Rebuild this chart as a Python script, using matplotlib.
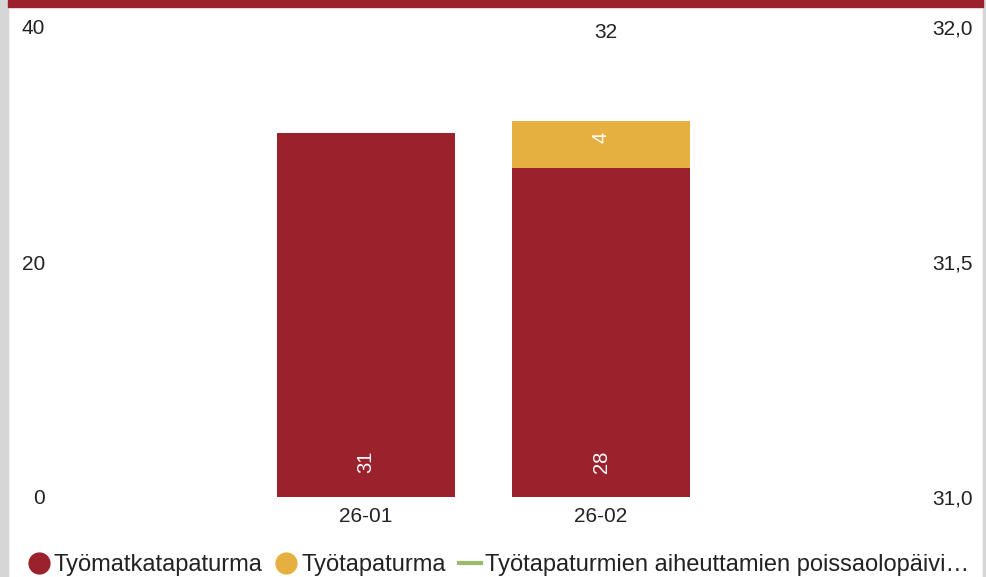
import matplotlib
matplotlib.use("Agg")
import matplotlib.pyplot as plt
import numpy as np
from matplotlib.patches import Rectangle
from matplotlib.lines import Line2D

categories = ["26-01", "26-02"]
tyomatka = [31, 28]
tyotapaturma = [0, 4]
poissaolo = [np.nan, 32]
left_ticks = [0, 20, 40]
right_ticks = [31.0, 31.5, 32.0]
legend_labels = ["Työmatkatapaturma", "Työtapaturma", "Työtapaturmien aiheuttamien poissaolopäivi…"]

RED = "#9b212d"
YEL = "#e6b040"
GRN = "#9bbb6a"
TXT = "#222222"

plt.rcParams["font.family"] = ["Liberation Sans", "DejaVu Sans"]

W, H = 986, 577
fig = plt.figure(figsize=(W/100, H/100), dpi=100)
fig.patch.set_facecolor("white")

axl, axr_px = 55, 925
top_px, bot_px = 27, 497
ax = fig.add_axes([axl/W, (H-bot_px)/H, (axr_px-axl)/W, (bot_px-top_px)/H])
ax2 = ax.twinx()

x = np.arange(len(categories))
bw = 178/235
ax.bar(x, tyomatka, width=bw, color=RED, zorder=2)
ax.bar(x, tyotapaturma, width=bw, bottom=tyomatka, color=YEL, zorder=2)

ax.set_ylim(0, 40)
ax.set_xlim(-(366-axl)/235, 1 + (axr_px-601)/235)
ax.set_yticks(left_ticks)
ax.set_yticklabels([str(t) for t in left_ticks])
ax.set_xticks(x)
ax.set_xticklabels(categories)
ax.tick_params(axis="y", length=0, pad=10*0.72, labelsize=15, labelcolor=TXT)
ax.tick_params(axis="x", length=0, pad=10*0.72, labelsize=15, labelcolor=TXT)
for s in ax.spines.values():
    s.set_visible(False)

ax2.plot(x, poissaolo, color=GRN, lw=2)
ax2.set_ylim(31.0, 32.0)
ax2.set_yticks(right_ticks)
ax2.set_yticklabels([f"{t:.1f}".replace(".", ",") for t in right_ticks])
ax2.tick_params(axis="y", length=0, pad=7*0.72, labelsize=15, labelcolor=TXT)
for s in ax2.spines.values():
    s.set_visible(False)

# data labels
for i in range(len(categories)):
    ax.annotate(str(tyomatka[i]), (x[i], 0), xytext=(0, 35), textcoords="offset pixels",
                rotation=90, ha="center", va="center", color="white", fontsize=14.5)
    if tyotapaturma[i] > 0:
        ax.annotate(str(tyotapaturma[i]), (x[i], tyomatka[i] + tyotapaturma[i]/2),
                    xytext=(0, 7), textcoords="offset pixels",
                    rotation=90, ha="center", va="center", color="white", fontsize=14.5)
for i in range(len(categories)):
    if not np.isnan(poissaolo[i]):
        ax2.annotate(str(int(poissaolo[i])), (x[i], poissaolo[i]), xytext=(5, -5),
                     textcoords="offset pixels", ha="center", va="center",
                     color=TXT, fontsize=15)

# frame decorations
fig.patches.append(Rectangle((0, 0), 8/W, 1, transform=fig.transFigure, color="#d6d6d6", zorder=0))
fig.patches.append(Rectangle((983/W, 0), 3/W, 1, transform=fig.transFigure, color="#d6d6d6", zorder=0))
fig.patches.append(Rectangle((8/W, (H-7)/H), 975/W, 7/H, transform=fig.transFigure, color=RED, zorder=0))

handles = [
    Line2D([], [], marker="o", ls="none", color=RED, markersize=15),
    Line2D([], [], marker="o", ls="none", color=YEL, markersize=15),
    Line2D([], [], color=GRN, lw=3),
]
leg = fig.legend(handles, legend_labels, loc="center left", bbox_to_anchor=(28/W, (H-565)/H),
                 ncol=3, frameon=False, fontsize=17, handlelength=0.9, handletextpad=0.2,
                 columnspacing=0.55, borderaxespad=0, borderpad=0)
for t in leg.get_texts():
    t.set_color(TXT)

fig.savefig("out.png", dpi=100)
